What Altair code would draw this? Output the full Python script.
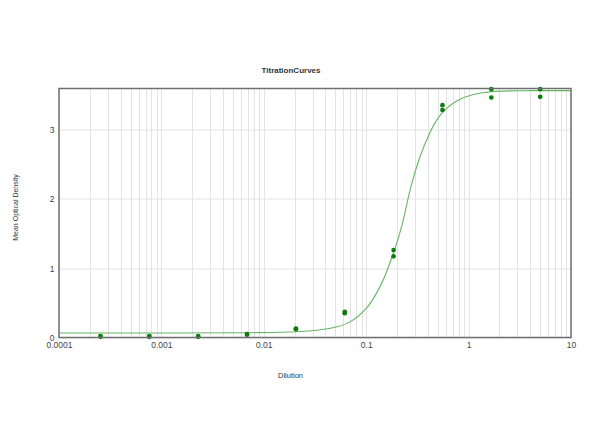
import altair as alt
import pandas as pd

# Replicate measurements (dilution, two replicates)
dilution = [5.0, 1.667, 0.5556, 0.1852, 0.06173, 0.02058, 0.006859, 0.002286, 0.000762, 0.000254]
rep1 = [3.58, 3.58, 3.35, 1.26, 0.37, 0.13, 0.05, 0.02, 0.02, 0.02]
rep2 = [3.47, 3.46, 3.28, 1.17, 0.35, 0.12, 0.04, 0.01, 0.01, 0.01]

# Fitted curve
curve_x = [0.0001, 0.001, 0.01, 0.0226, 0.0477, 0.0695, 0.101, 0.127, 0.153, 0.177,
           0.214, 0.24, 0.268, 0.335, 0.42, 0.525, 0.765, 1.11, 1.63, 3.0, 10.0]
curve_y = [0.065, 0.065, 0.068, 0.08, 0.13, 0.205, 0.40, 0.64, 0.88, 1.14,
           1.50, 1.80, 2.15, 2.63, 2.97, 3.23, 3.43, 3.51, 3.55, 3.56, 3.56]

major_ticks = [0.0001, 0.001, 0.01, 0.1, 1, 10]
minor_mult = [1, 2, 3, 4, 5, 6, 7, 8, 9]
y_ticks = [0, 1, 2, 3]

grid_values = [m * d for d in major_ticks[:-1] for m in minor_mult] + [major_ticks[-1]]

pts = pd.DataFrame({
    "Dilution": dilution + dilution,
    "OD": rep1 + rep2,
})
crv = pd.DataFrame({"Dilution": curve_x, "OD": curve_y})
frame = pd.DataFrame({"a": [0]})

FONT = "Liberation Sans"
FRAME = "#707070"

x_enc = alt.X(
    "Dilution:Q",
    scale=alt.Scale(type="log", domain=[0.0001, 10], nice=False),
    axis=alt.Axis(
        values=grid_values,
        format="~g",
        labelExpr="abs(log(datum.value)/LN10 - round(log(datum.value)/LN10)) < 1e-6 ? datum.label : ''",
        labelOverlap=False,
        labelFlush=False,
        ticks=False,
        domain=False,
        labelPadding=3,
        labelFontSize=8.5,
        labelColor="#444444",
        labelFont=FONT,
        grid=True,
        gridColor="#e3e3e3",
        gridWidth=1,
        title="Dilution",
        titleFont=FONT,
        titleFontSize=7.5,
        titleFontWeight="normal",
        titleColor="#333333",
        titleX=231,
        titleY=37.5,
        titleAlign="center",
        titleBaseline="middle",
        titleAnchor="start",
    ),
)

y_enc = alt.Y(
    "OD:Q",
    scale=alt.Scale(domain=[0, 3.59], nice=False, zero=True),
    axis=alt.Axis(
        values=y_ticks,
        format="d",
        ticks=False,
        domain=False,
        labelPadding=5,
        labelFontSize=8.5,
        labelColor="#444444",
        labelFont=FONT,
        grid=True,
        gridColor="#e3e3e3",
        gridWidth=1,
        title="Mean Optical Density",
        titleFont=FONT,
        titleFontSize=7,
        titleFontWeight="normal",
        titleColor="#333333",
        titleAngle=270,
        titleX=-44,
        titleY=118.5,
        titleAlign="center",
        titleBaseline="middle",
    ),
)

line = alt.Chart(crv).mark_line(color="#66b566", strokeWidth=1.1, interpolate="basis").encode(
    x=x_enc, y=y_enc
)
points = alt.Chart(pts).mark_circle(color="#0a7d0a", opacity=1, size=22).encode(
    x=alt.X("Dilution:Q"), y=alt.Y("OD:Q")
)
border = alt.Chart(frame).mark_rect(fill=None, stroke=FRAME, strokeWidth=1.5).encode(
    x=alt.value(0), x2=alt.value(512), y=alt.value(0), y2=alt.value(249)
)

chart = (
    alt.layer(line, points, border)
    .properties(
        width=512,
        height=249,
        autosize="none",
        padding={"left": 51, "top": 80.5, "right": 20, "bottom": 60},
        background="white",
        title=alt.TitleParams(
            "TitrationCurves",
            font=FONT,
            fontSize=8,
            fontWeight="bold",
            color="#333333",
            anchor="middle",
            offset=12,
            dx=-24,
        ),
    )
    .configure_view(stroke=None)
)

chart.save("out.html", embed_options={"renderer": "svg", "actions": False})
